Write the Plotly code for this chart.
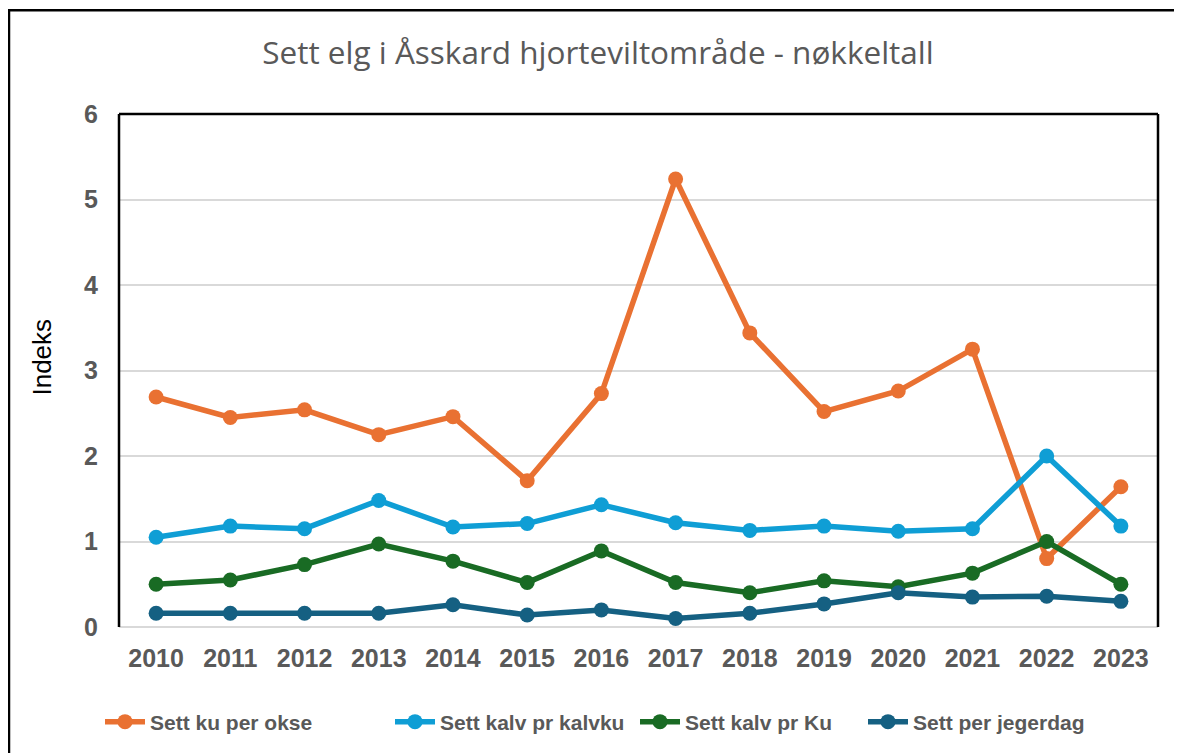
import plotly.graph_objects as go

years = ["2010", "2011", "2012", "2013", "2014", "2015", "2016",
         "2017", "2018", "2019", "2020", "2021", "2022", "2023"]
ku_per_okse = [2.69, 2.45, 2.54, 2.25, 2.46, 1.71, 2.73, 5.24, 3.44, 2.52, 2.76, 3.25, 0.80, 1.64]
kalv_pr_kalvku = [1.05, 1.18, 1.15, 1.48, 1.17, 1.21, 1.43, 1.22, 1.13, 1.18, 1.12, 1.15, 2.00, 1.18]
kalv_pr_ku = [0.50, 0.55, 0.73, 0.97, 0.77, 0.52, 0.89, 0.52, 0.40, 0.54, 0.47, 0.63, 1.00, 0.50]
per_jegerdag = [0.16, 0.16, 0.16, 0.16, 0.26, 0.14, 0.20, 0.10, 0.16, 0.27, 0.40, 0.35, 0.36, 0.30]

series_names = ["Sett ku per okse", "Sett kalv pr kalvku", "Sett kalv pr Ku", "Sett per jegerdag"]
series_values = [ku_per_okse, kalv_pr_kalvku, kalv_pr_ku, per_jegerdag]
colors = ["#E97132", "#0F9ED5", "#196B24", "#156082"]
legend_ids = ["legend", "legend2", "legend3", "legend4"]

fig = go.Figure()
for name, vals, c, lg in zip(series_names, series_values, colors, legend_ids):
    fig.add_trace(go.Scatter(
        x=years, y=vals, name=name, mode="lines+markers",
        line=dict(color=c, width=5.5),
        marker=dict(color=c, size=15),
        legend=lg,
    ))

OFF = 8  # default body margin of the page
W, H = 1182 - OFF, 753 - OFF
PL, PR, PT, PB = 119, 1158, 114, 628
L = PL - OFF
T = PT - OFF
R = W - (PR - OFF)
B = H - (PB - OFF)
pw = W - L - R
ph = H - T - B

def px_x(px):
    return (px - PL) / pw

def px_y(py):
    return (PB - py) / ph

shapes = [
    dict(type="line", xref="paper", yref="paper", x0=0, x1=0, y0=0, y1=1,
         line=dict(color="black", width=2.5)),
    dict(type="line", xref="paper", yref="paper", x0=0, x1=1, y0=1, y1=1,
         line=dict(color="black", width=2.5)),
    dict(type="line", xref="paper", yref="paper", x0=1, x1=1, y0=0, y1=1,
         line=dict(color="black", width=2.5)),
    dict(type="rect", xref="paper", yref="paper",
         x0=px_x(9), x1=px_x(1200), y0=px_y(800), y1=px_y(10),
         line=dict(color="black", width=2.5), layer="below"),
]

annotations = [
    dict(text="Indeks", xref="paper", yref="paper", x=px_x(42), y=px_y(358),
         textangle=-90, showarrow=False, xanchor="center", yanchor="middle",
         font=dict(family="Liberation Sans", size=26, color="black")),
]

tick_font = dict(family="Liberation Sans", size=25, color="#595959", weight="bold")
legend_font = dict(family="Liberation Sans", size=21, color="#595959", weight="bold")
legend_starts = [105, 395, 640, 868]

legends = {}
for lg, xs in zip(legend_ids, legend_starts):
    legends[lg] = dict(orientation="h", x=px_x(xs - 5), xanchor="left",
                       y=px_y(722), yanchor="middle", font=legend_font,
                       itemwidth=40, bgcolor="rgba(0,0,0,0)")

fig.update_layout(
    width=W, height=H,
    margin=dict(l=L, r=R, t=T, b=B),
    paper_bgcolor="white", plot_bgcolor="white",
    title=dict(text="Sett elg i Åsskard hjorteviltområde - nøkkeltall",
               x=(598 - OFF) / W, xref="container", xanchor="center",
               y=1 - (53 - OFF) / H, yref="container", yanchor="middle",
               font=dict(family="Open Sans", size=31.5, color="#595959")),
    showlegend=True,
    shapes=shapes,
    annotations=annotations,
    xaxis=dict(type="category", range=[-0.5, 13.5], showgrid=False, showline=False,
               ticks="", tickfont=tick_font, ticklabelstandoff=14),
    yaxis=dict(range=[0, 6], dtick=1, showgrid=True, gridcolor="#D9D9D9", gridwidth=2,
               zeroline=True, zerolinecolor="#D9D9D9", zerolinewidth=2, showline=False,
               ticks="", tickfont=tick_font, ticklabelstandoff=20),
    **legends,
)

fig.write_html("out.html")
